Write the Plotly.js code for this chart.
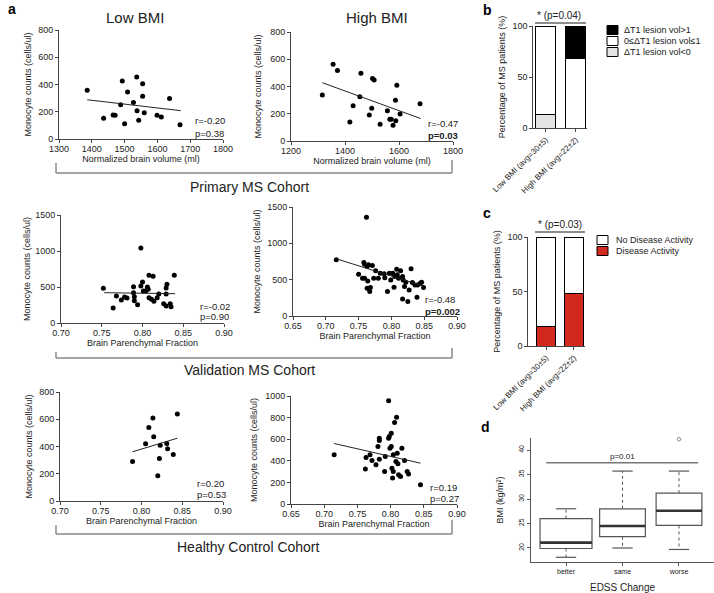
<!DOCTYPE html>
<html><head><meta charset="utf-8">
<script src="https://cdn.plot.ly/plotly-3.0.1.min.js"></script>
<style>body{margin:0;background:#fff}#chart{width:714px;height:593px}</style>
</head><body><div id="chart"></div>
<script>
// ---------- DATA ----------
// Primary MS cohort, Low BMI
const lowBmiVolume = [1386,1436,1465,1471,1488,1493,1500,1509,1527,1537,1538,1543,1555,1555,1560,1599,1612,1637,1669];
const lowBmiMonocytes = [357,152,176,174,252,425,112,345,267,455,208,137,406,313,193,174,161,298,105];
const lowBmiFitX = [1386,1671];
const lowBmiFitY = [288,208];
// Primary MS cohort, High BMI
const highBmiVolume = [1316,1356,1372,1418,1430,1455,1459,1490,1499,1502,1508,1530,1557,1566,1571,1578,1587,1588,1592,1604,1678];
const highBmiMonocytes = [337,564,517,140,258,325,497,190,241,458,448,123,222,160,160,116,300,148,409,199,273];
const highBmiFitX = [1316,1680];
const highBmiFitY = [428,165];
// Validation MS cohort, left
const valLeftBPF = [0.752,0.764,0.768,0.774,0.778,0.781,0.789,0.789,0.790,0.790,0.794,0.798,0.800,0.798,0.801,0.804,0.806,0.807,0.808,0.813,0.808,0.811,0.814,0.818,0.820,0.829,0.830,0.829,0.826,0.829,0.834,0.835,0.839];
const valLeftMono = [481,208,375,319,361,347,505,421,366,310,255,1042,569,514,444,444,500,468,662,648,352,329,301,352,403,486,537,403,269,236,269,227,662];
const valLeftFitX = [0.753,0.840];
const valLeftFitY = [421,407];
// Validation MS cohort, right
const valRightBPF = [0.716,0.750,0.758,0.759,0.756,0.759,0.762,0.763,0.765,0.764,0.763,0.768,0.767,0.771,0.773,0.776,0.780,0.783,0.789,0.790,0.794,0.797,0.802,0.799,0.804,0.805,0.808,0.809,0.811,0.814,0.817,0.818,0.820,0.817,0.822,0.825,0.827,0.830,0.832,0.836,0.839,0.840,0.844,0.846,0.849];
const valRightMono = [773,575,736,713,520,520,1358,681,704,483,382,391,336,695,520,621,520,589,580,525,336,589,589,497,396,543,644,566,520,621,543,497,405,235,465,198,359,649,460,428,258,428,451,465,391];
const valRightFitX = [0.716,0.848];
const valRightFitY = [787,414];
// Healthy control cohort, left
const hcLeftBPF = [0.789,0.805,0.809,0.814,0.815,0.820,0.822,0.823,0.831,0.832,0.839,0.844];
const hcLeftMono = [290,420,539,610,471,185,312,410,422,383,341,639];
const hcLeftFitX = [0.789,0.844];
const hcLeftFitY = [361,461];
// Healthy control cohort, right
const hcRightBPF = [0.715,0.797,0.809,0.806,0.801,0.798,0.797,0.783,0.783,0.801,0.799,0.781,0.817,0.810,0.792,0.804,0.769,0.763,0.772,0.783,0.808,0.811,0.821,0.778,0.762,0.791,0.802,0.804,0.812,0.815,0.825,0.827,0.803,0.845];
const hcRightMono = [455,957,803,754,655,625,609,609,588,532,517,532,517,471,440,455,455,431,403,415,394,372,403,363,323,302,332,302,271,255,302,277,240,178];
const hcRightFitX = [0.715,0.845];
const hcRightFitY = [560,378];
// Panel b
const bmiGroups = ["Low BMI (avg=30±5)", "High BMI (avg=22±2)"];
const lesionNames = ["ΔT1 lesion vol>1", "0≤ΔT1 lesion vol≤1", "ΔT1 lesion vol<0"];
const lesionPos = [0, 32];
const lesionMid = [87, 68];
const lesionNeg = [13, 0];
const pValueB = "* (p=0.04)";
// Panel c
const activityNames = ["No Disease Activity", "Disease Activity"];
const noActivity = [82, 52];
const activity = [18, 48];
const pValueC = "* (p=0.03)";
// Panel d
const edssGroups = ["better", "same", "worse"];
const bmiLower = [18.1, 20.0, 19.7];
const bmiQ1 = [19.9, 22.3, 24.6];
const bmiMedian = [21.1, 24.5, 27.6];
const bmiQ3 = [26.0, 28.0, 31.2];
const bmiUpper = [28.0, 35.7, 35.7];
const bmiOutlierGroup = [2];
const bmiOutlierValue = [42.2];
const pValueD = "p=0.01";
const pLineLevel = 37.4;

// ---------- LAYOUT HELPERS ----------
const W = 714, H = 593;
const FONT = "Liberation Sans, Arial, sans-serif";
const INK = "#222";
const base = {showline:true, linecolor:'#444', linewidth:1, ticks:'outside', ticklen:3, tickcolor:'#444',
  showgrid:false, zeroline:false, tickfont:{size:9,color:INK,family:FONT}, automargin:false, fixedrange:true};
function XA(x0,x1,anchor,extra){ return Object.assign({}, base, {domain:[x0/W,x1/W], anchor:anchor}, extra); }
function YA(top,bottom,anchor,extra){ return Object.assign({}, base, {domain:[1-bottom/H,1-top/H], anchor:anchor}, extra); }
function ttl(t,size,standoff){ const o={text:t, font:{size:size||9,color:INK,family:FONT}}; if(standoff!==undefined) o.standoff=standoff; return o; }
function ann(text,xp,yp,o){ return Object.assign({xref:'paper',yref:'paper',x:xp/W,y:1-yp/H,text:text,showarrow:false,
  font:{size:10,color:INK,family:FONT},xanchor:'center',yanchor:'middle'},o||{}); }
function pline(x0,y0,x1,y1,color,w){ return {type:'line',xref:'paper',yref:'paper',x0:x0/W,x1:x1/W,y0:1-y0/H,y1:1-y1/H,line:{color:color||'#888',width:w||1.5}}; }
function esc(s){ return s.replace(/</g,'&lt;').replace(/>/g,'&gt;'); }

const traces = [];
function scatterPanel(n, xs, ys, fx, fy){
  traces.push({type:'scatter', mode:'markers', x:xs, y:ys, xaxis:'x'+n, yaxis:'y'+n,
    marker:{size:5,color:'#000'}, hoverinfo:'skip', cliponaxis:false});
  traces.push({type:'scatter', mode:'lines', x:fx, y:fy, xaxis:'x'+n, yaxis:'y'+n,
    line:{color:'#222',width:1}, hoverinfo:'skip'});
}
scatterPanel(1, lowBmiVolume, lowBmiMonocytes, lowBmiFitX, lowBmiFitY);
scatterPanel(2, highBmiVolume, highBmiMonocytes, highBmiFitX, highBmiFitY);
scatterPanel(3, valLeftBPF, valLeftMono, valLeftFitX, valLeftFitY);
scatterPanel(4, valRightBPF, valRightMono, valRightFitX, valRightFitY);
scatterPanel(5, hcLeftBPF, hcLeftMono, hcLeftFitX, hcLeftFitY);
scatterPanel(6, hcRightBPF, hcRightMono, hcRightFitX, hcRightFitY);

// panel b stacked bars
const barLine = {color:'#000', width:1};
[[lesionNeg,'#e4e4e4',lesionNames[2]],[lesionMid,'#ffffff',lesionNames[1]],[lesionPos,'#000000',lesionNames[0]]].forEach(s=>{
  traces.push({type:'bar', x:[0,1], y:s[0], name:s[2], xaxis:'x7', yaxis:'y7', width:0.67,
    marker:{color:s[1], line:barLine}, hoverinfo:'skip'});
});
// panel c stacked bars
[[activity,'#d2281e',activityNames[1]],[noActivity,'#ffffff',activityNames[0]]].forEach(s=>{
  traces.push({type:'bar', x:[0,1], y:s[0], name:s[2], xaxis:'x8', yaxis:'y8', width:0.68,
    marker:{color:s[1], line:barLine}, hoverinfo:'skip'});
});
// panel d boxes
const boxW = [0.92, 0.81, 0.81];
const capHalf = 0.18;
const boxColor = '#555';
edssGroups.forEach((g,i)=>{
  traces.push({type:'box', x:[i], q1:[bmiQ1[i]], median:[bmiMedian[i]], q3:[bmiQ3[i]],
    lowerfence:[bmiQ1[i]], upperfence:[bmiQ3[i]], width:boxW[i], xaxis:'x9', yaxis:'y9',
    fillcolor:'rgba(0,0,0,0)', line:{color:boxColor,width:1.2}, hoverinfo:'skip', boxpoints:false});
  traces.push({type:'scatter', mode:'lines', xaxis:'x9', yaxis:'y9', hoverinfo:'skip',
    x:[i,i,null,i,i], y:[bmiQ3[i],bmiUpper[i],null,bmiQ1[i],bmiLower[i]],
    line:{color:boxColor,width:1,dash:'3px,3px'}});
  traces.push({type:'scatter', mode:'lines', xaxis:'x9', yaxis:'y9', hoverinfo:'skip',
    x:[i-capHalf,i+capHalf,null,i-capHalf,i+capHalf], y:[bmiUpper[i],bmiUpper[i],null,bmiLower[i],bmiLower[i]],
    line:{color:boxColor,width:1.2}});
  traces.push({type:'scatter', mode:'lines', xaxis:'x9', yaxis:'y9', hoverinfo:'skip',
    x:[i-boxW[i]/2,i+boxW[i]/2], y:[bmiMedian[i],bmiMedian[i]], line:{color:'#333',width:2.6}});
});
traces.push({type:'scatter', mode:'markers', x:bmiOutlierGroup, y:bmiOutlierValue, xaxis:'x9', yaxis:'y9',
  marker:{symbol:'circle-open',size:3.5,color:'#888',line:{width:1}}, cliponaxis:false, hoverinfo:'skip'});

const yMono = (s)=>ttl("Monocyte counts (cells/ul)", 9, s);
const xs = {ticklabelstandoff:-2};
const layout = {
  width:W, height:H, margin:{l:0,r:0,t:0,b:0}, paper_bgcolor:'#fff', plot_bgcolor:'rgba(0,0,0,0)',
  showlegend:false, barmode:'stack', boxmode:'overlay', font:{family:FONT,color:INK},
  xaxis:  XA(59,223,'y',  Object.assign({range:[1300,1800], dtick:100, title:ttl("Normalized brain volume (ml)",9,1)},xs)),
  yaxis:  YA(30,139,'x',  {range:[0,800], dtick:200, title:yMono(5)}),
  xaxis2: XA(291,453,'y2',Object.assign({range:[1200,1800], dtick:200, title:ttl("Normalized brain volume (ml)",9,1)},xs)),
  yaxis2: YA(32,141,'x2', {range:[0,800], dtick:200, title:yMono(7)}),
  xaxis3: XA(61,224,'y3', Object.assign({range:[0.70,0.90], dtick:0.05, tickformat:'.2f', title:ttl("Brain Parenchymal Fraction",9,1)},xs)),
  yaxis3: YA(215,323,'x3',{range:[0,1500], dtick:500, title:yMono(3)}),
  xaxis4: XA(293,457,'y4',Object.assign({range:[0.65,0.90], dtick:0.05, tickformat:'.2f', title:ttl("Brain Parenchymal Fraction",9,1)},xs)),
  yaxis4: YA(207,316,'x4',{range:[0,1500], dtick:500, title:yMono(5)}),
  xaxis5: XA(60,223,'y5', Object.assign({range:[0.70,0.90], dtick:0.05, tickformat:'.2f', title:ttl("Brain Parenchymal Fraction",9,1)},xs)),
  yaxis5: YA(392,501,'x5',{range:[0,800], dtick:200, title:yMono(5)}),
  xaxis6: XA(291,457,'y6',Object.assign({range:[0.65,0.90], dtick:0.05, tickformat:'.2f', title:ttl("Brain Parenchymal Fraction",9,1)},xs)),
  yaxis6: YA(396,504,'x6',{range:[0,1000], dtick:200, title:yMono(6)}),
  xaxis7: XA(533.3,586.7,'y7',{range:[-0.41,1.37], tickvals:[0,1], ticktext:bmiGroups, tickangle:-45, tickfont:{size:8,color:INK,family:FONT}}),
  yaxis7: YA(26,128,'x7', {range:[0,100], tickvals:[0,50,100], title:ttl("Percentage of MS patients (%)")}),
  xaxis8: XA(528.3,585,'y8',{range:[-0.64,1.40], tickvals:[0,1], ticktext:bmiGroups, tickangle:-45, tickfont:{size:8,color:INK,family:FONT}}),
  yaxis8: YA(237,346,'x8',{range:[0,100], tickvals:[0,50,100], title:ttl("Percentage of MS patients (%)")}),
  xaxis9: XA(531,714,'y9',{range:[-0.62,2.62], tickvals:[0,1,2], ticktext:edssGroups, linecolor:'#555', tickcolor:'#555',
            tickfont:{size:7,color:INK,family:FONT}, title:ttl("EDSS Change",10)}),
  yaxis9: YA(438,562,'x9',{range:[17.14,42.45], tickvals:[20,25,30,35,40], tickangle:-90, linecolor:'#555', tickcolor:'#555',
            tickfont:{size:7,color:INK,family:FONT}, title:ttl("BMI (kg/m²)",9)}),
  annotations:[], shapes:[]
};
const A = layout.annotations, S = layout.shapes;
// panel letters
A.push(ann("<b>a</b>",12,9,{font:{size:14,color:'#000',family:FONT}}));
A.push(ann("<b>b</b>",487,10,{font:{size:14,color:'#000',family:FONT}}));
A.push(ann("<b>c</b>",487,213,{font:{size:14,color:'#000',family:FONT}}));
A.push(ann("<b>d</b>",485,427,{font:{size:14,color:'#000',family:FONT}}));
// titles
A.push(ann("Low BMI",135,17,{font:{size:15,color:INK,family:FONT}}));
A.push(ann("High BMI",377,17,{font:{size:15,color:INK,family:FONT}}));
A.push(ann("Primary MS Cohort",249,187,{font:{size:14,color:INK,family:FONT}}));
A.push(ann("Validation MS Cohort",249,370,{font:{size:14,color:INK,family:FONT}}));
A.push(ann("Healthy Control Cohort",248,547,{font:{size:14,color:INK,family:FONT}}));
// brackets
[[163,160,173],[352,348,358],[525,520,534]].forEach(b=>{
  S.push(pline(56,b[0],56,b[2])); S.push(pline(452,b[1],452,b[2])); S.push(pline(56,b[2],452,b[2]));
});
// stats text
const st = (t,x,y)=>A.push(ann(t,x,y,{xanchor:'left',font:{size:9.5,color:INK,family:FONT}}));
st("r=-0.20",193,121); st("p=0.38",193,133);
st("r=-0.47",426,123); st("<b>p=0.03</b>",426,135);
st("r=-0.02",198,306); st("p=0.90",198,317);
st("r=-0.48",423,299); st("<b>p=0.002</b>",423,311);
st("r=0.20",195,483); st("p=0.53",195,494);
st("r=0.19",428,487); st("p=0.27",428,498);
// panel b significance + legend
A.push(ann(pValueB,559,15,{font:{size:10,color:INK,family:FONT}}));
S.push(pline(535,23,586,23,'#666',1.5));
const legB = [['#000000',lesionNames[0],30],['#ffffff',lesionNames[1],41],['#e4e4e4',lesionNames[2],52]];
legB.forEach(l=>{
  S.push({type:'rect',xref:'paper',yref:'paper',x0:607/W,x1:618/W,y0:1-(l[2]+4.5)/H,y1:1-(l[2]-4.5)/H,fillcolor:l[0],line:{color:'#000',width:1}});
  A.push(ann(esc(l[1]),622,l[2],{xanchor:'left',font:{size:9,color:INK,family:FONT}}));
});
// panel c significance + legend
A.push(ann(pValueC,560,224,{font:{size:10,color:INK,family:FONT}}));
S.push(pline(535,232,585,232,'#666',1.5));
const legC = [['#ffffff',activityNames[0],240],['#d2281e',activityNames[1],251]];
legC.forEach(l=>{
  S.push({type:'rect',xref:'paper',yref:'paper',x0:597/W,x1:608/W,y0:1-(l[2]+4.5)/H,y1:1-(l[2]-4.5)/H,fillcolor:l[0],line:{color:'#000',width:1}});
  A.push(ann(esc(l[1]),614,l[2],{xanchor:'left',font:{size:9,color:INK,family:FONT}}));
});
// panel d p-value line
S.push({type:'line',xref:'x9',yref:'y9',x0:-0.35,x1:2.34,y0:pLineLevel,y1:pLineLevel,line:{color:'#777',width:1.5}});
A.push({xref:'x9',yref:'y9',x:1,y:pLineLevel,text:pValueD,showarrow:false,yanchor:'bottom',yshift:0,font:{size:8,color:INK,family:FONT}});

Plotly.newPlot('chart', traces, layout, {staticPlot:true, displayModeBar:false});
</script>
</body></html>
